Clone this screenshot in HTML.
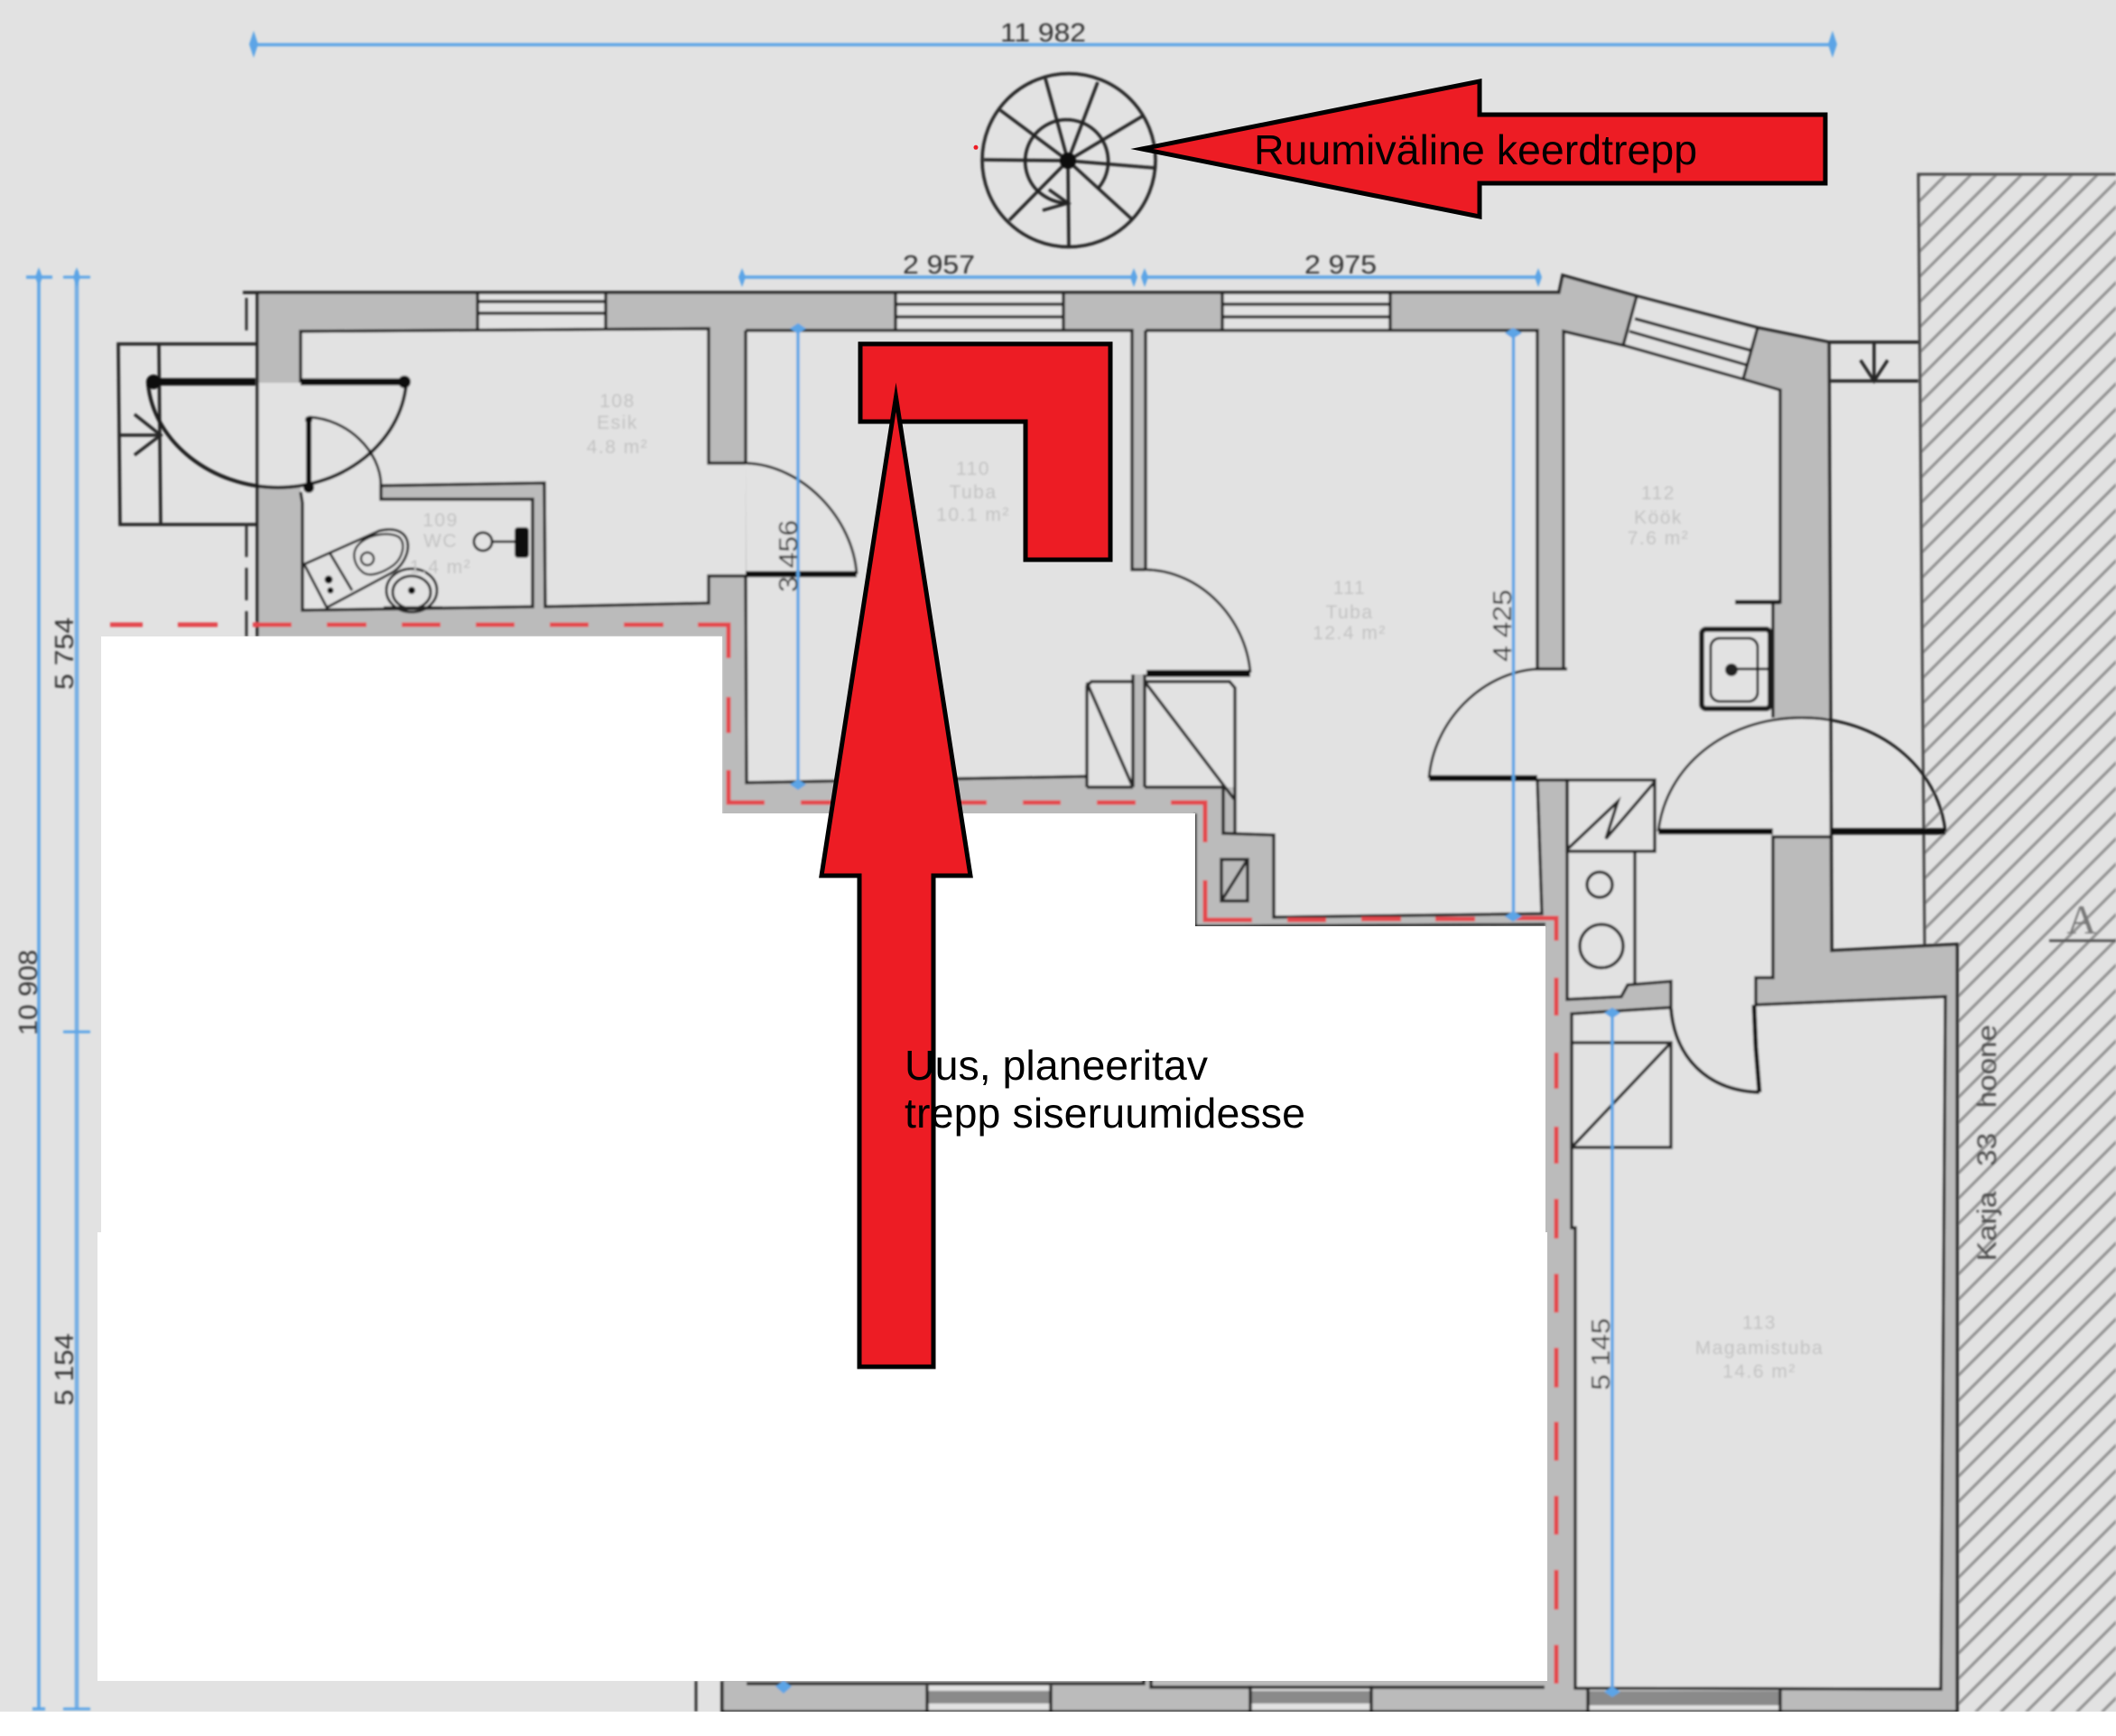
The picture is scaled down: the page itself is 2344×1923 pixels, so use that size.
<!DOCTYPE html>
<html><head><meta charset="utf-8">
<style>html,body{margin:0;padding:0;background:#fff}svg{display:block}.p{white-space:pre}</style>
</head><body>
<svg xmlns="http://www.w3.org/2000/svg" width="2344" height="1923" viewBox="0 0 2344 1923" font-family="'Liberation Sans',sans-serif">
<defs>
<filter id="b" filterUnits="userSpaceOnUse" x="0" y="0" width="2344" height="1923"><feGaussianBlur stdDeviation="1"/></filter>
<pattern id="h" width="28" height="28" patternUnits="userSpaceOnUse">
<path d="M27,-2 L-2,27 M30,23 L23,30" stroke="#8f8f8f" stroke-width="3"/>
</pattern>
</defs>
<rect width="2344" height="1923" fill="#e2e2e2"/>
<g filter="url(#b)">
<!-- hatch -->
<polygon points="2125,193 2344,193 2344,1896 2168,1896 2168,1046 2132,1046" fill="url(#h)"/>
<path d="M2344,193 L2125,193 L2132,1046" fill="none" stroke="#444" stroke-width="3"/>
<!-- building gray -->
<polygon points="285,324 1727,324 1731,305 1813,328 1947,363 2026,379 2029,1053 2168,1046 2168,1896 800,1896 800,705 285,705" fill="#bbb"/>
<!-- room fills -->
<g fill="#e2e2e2">
<polygon points="333,367 785,364 785,513 826,513 826,638 785,638 785,668 604,672 603,535 422,538 422,553 590,553 590,672 335,676 335,557 333,545 333,540 285,540 285,424 333,424"/>
<polygon points="826,366 1254,366 1254,631 1269,631 1269,747 1254,747 1254,756 1203,756 1203,860 827,867 827,638 826,513"/>
<polygon points="1204,755 1255,755 1255,872 1204,872"/>
<polygon points="1269,366 1703,366 1703,741 1736,741 1736,864 1703,864 1708,1012 1411,1016 1411,925 1368,923 1368,755 1269,755 1269,747 1269,631"/>
<polygon points="1268,755 1368,755 1368,872 1268,872"/>
<polygon points="1732,367 1800,383 1931,420 1972,432 1972,666 1964,666 1964,795 2029,795 2029,927 1964,927 1964,1083 1945,1083 1945,1113 2155,1104 2150,1871 1745,1871 1745,1360 1741,1360 1741,1123 1851,1116 1851,1087 1803,1091 1796,1104 1736,1107 1736,741 1732,741"/>
<!-- windows -->
<rect x="529" y="324" width="142" height="42"/>
<rect x="992" y="324" width="186" height="42"/>
<rect x="1354" y="324" width="186" height="42"/>
<polygon points="1813,328 1947,363 1931,420 1798,383"/>
<rect x="1027" y="1867" width="137" height="28"/>
<rect x="1385" y="1867" width="134" height="28"/>
<rect x="1759" y="1871" width="213" height="25"/>
</g>
<rect x="1027" y="1873" width="137" height="14" fill="#8a8a8a"/>
<rect x="1385" y="1873" width="134" height="14" fill="#8a8a8a"/>
<rect x="1759" y="1873" width="213" height="16" fill="#8a8a8a"/>
<!-- wall lines -->
<g fill="none" stroke="#262626" stroke-width="3.5">
<path d="M269,324 L1727,324 L1731,305 L1813,328 L1947,363 L2026,379 L2029,1053 L2168,1046 L2168,1896 L800,1896 L800,1862"/>
<path d="M285,324 L285,705"/>
<path d="M333,424 L333,367 L785,364 L785,513 L826,513 M826,366 L826,513 M826,638 L785,638 L785,668 L604,672 L603,535 L422,538 L422,553 L590,553 L590,672 L335,676 L335,557 L333,545"/>
<path d="M826,638 L827,867 L1204,860 M826,366 L1254,366 L1254,631 L1269,631 M1269,366 L1269,631 M1255,747 L1255,872 M1268,747 L1268,872"/>
<path d="M1204,872 L1204,760 L1209,755 L1255,755 M1204,756 L1255,872 M1204,872 L1255,872"/>
<path d="M1268,755 L1362,755 L1368,762 L1368,923 M1268,755 L1367,885 M1268,872 L1355,872 L1355,923 L1411,925 L1411,1016 L1708,1012 L1703,864 M1269,366 L1703,366 L1703,741 L1736,741"/>
<rect x="1353" y="952" width="29" height="46"/>
<path d="M1353,998 L1382,952"/>
<path d="M1324,901 L1324,1026 L1712,1024"/>
<path d="M1736,864 L1736,1107 L1796,1104 L1803,1091 L1851,1087 L1851,1116 L1741,1123 L1741,1360 L1745,1360 L1745,1870 L2150,1871 L2155,1104 L1945,1113 L1945,1083 L1964,1083 L1964,927 L2029,927"/>
<path d="M1703,864 L1736,864 M1964,795 L1964,667 L1972,667 L1972,432 L1931,420 L1800,383 L1732,367 L1732,741"/>
<path d="M827,1865 L1267,1865 L1267,1857 M1275,1857 L1275,1869 L1711,1869"/>
<path d="M529,324 V366 M671,324 V366 M992,324 V366 M1178,324 V366 M1354,324 V366 M1540,324 V366 M529,334 H671 M529,347 H671 M992,337 H1178 M992,351 H1178 M1354,337 H1540 M1354,351 H1540"/>
<path d="M1813,328 L1798,383 M1947,363 L1931,420 M1811,353 L1939,388 M1805,367 L1934,404"/>
<path d="M1027,1867 V1896 M1164,1867 V1896 M1385,1867 V1896 M1519,1867 V1896 M1759,1871 V1896 M1972,1871 V1896"/>
<!-- stairs left -->
<path d="M284,381 L131,381 L133,581 L284,581 M176,381 L178,581 M131,482 L178,482 M149,459 L178,482 L149,504"/>
<!-- balcony -->
<path d="M2026,379 L2125,379 M2028,422 L2125,422 M2076,379 L2076,420 M2061,399 L2076,422 L2091,399"/>
<!-- kitchen -->
<rect x="1736" y="864" width="97" height="79"/>
<path d="M1736,941 L1792,888 L1779,929 L1833,866 M1811,943 L1811,1090"/>
<circle cx="1772" cy="980" r="14"/>
<circle cx="1774" cy="1048" r="24"/>
<rect x="1741" y="1155" width="110" height="116"/>
<path d="M1741,1271 L1851,1155"/>
</g>
<!-- black dashed -->
<path d="M273,330 V378 M273,581 V705 M771,1862 V1896" fill="none" stroke="#333" stroke-width="3" stroke-dasharray="36 12"/>
<!-- door arcs -->
<g fill="none" stroke="#1a1a1a" stroke-width="4">
<path d="M164,425 C170,490 235,540 308,540 C381,540 444,490 450,425"/>
<path d="M342,462 C385,464 422,500 422,538" stroke-width="3"/>
<path d="M826,513 C890,515 945,575 949,636" stroke-width="3"/>
<path d="M1269,631 C1330,632 1380,685 1385,745" stroke-width="3"/>
<path d="M1703,741 C1640,745 1588,800 1583,862" stroke-width="3"/>
<path d="M1837,921 C1845,850 1910,795 1996,795 C2082,795 2147,850 2155,921" stroke-width="3"/>
<path d="M1851,1117 C1855,1170 1890,1208 1949,1210"/>
</g>
<g fill="none" stroke="#111" stroke-width="8">
<path d="M165,423 H283 M333,423 H450"/>
<path d="M342,465 V540" stroke-width="6"/>
<path d="M826,636 H949" stroke-width="7"/>
<path d="M1270,746 H1385" stroke-width="8"/>
<path d="M1583,862 H1703" stroke-width="7"/>
<path d="M1837,921 H1964 M2029,921 H2155" stroke-width="7"/>
<path d="M1943,1113 L1945,1160 L1949,1210" stroke-width="5"/>
</g>
<g fill="#111"><circle cx="170" cy="423" r="8"/><circle cx="448" cy="423" r="7"/><circle cx="342" cy="540" r="6"/><circle cx="342" cy="465" r="4"/></g>
<!-- WC fixtures -->
<g fill="none" stroke="#222" stroke-width="3">
<path d="M337,625 L420,588 C445,582 455,595 451,612 C448,622 442,630 433,635 L362,673 Z"/>
<path d="M395,606 C405,592 430,588 442,595 C450,602 446,618 436,626 C425,634 410,640 402,634 C392,626 390,614 395,606 Z" stroke-width="2.5"/>
<path d="M365,612 L390,654"/>
<circle cx="407" cy="619" r="7" stroke-width="2.5"/>
<ellipse cx="456" cy="654" rx="28" ry="24"/>
<ellipse cx="456" cy="656" rx="21" ry="18"/>
<path d="M425,673 H490"/>
<circle cx="535" cy="600" r="10"/>
<path d="M545,600 H572"/>
</g>
<g fill="#111"><circle cx="364" cy="642" r="4.5"/><circle cx="366" cy="654" r="3.5"/><circle cx="456" cy="654" r="4"/><rect x="570" y="584" width="16" height="34" rx="4"/></g>
<!-- sink -->
<g fill="none" stroke="#1a1a1a">
<rect x="1885" y="697" width="76" height="88" rx="5" stroke-width="6"/>
<rect x="1895" y="707" width="52" height="70" rx="10" stroke-width="3"/>
<path d="M1918,741 H1958" stroke-width="3"/>
<path d="M1922,667 H1972" stroke-width="5"/>
</g>
<circle cx="1918" cy="742" r="7" fill="#222"/>
<!-- spiral stair -->
<g fill="none" stroke="#222" stroke-width="3.5">
<circle cx="1184" cy="177.5" r="96"/>
<path d="M1150,212 A46,46 0 1 1 1217,208"/>
<path d="M1183,178 L1090,177 M1183,178 L1108,122 M1183,178 L1158,87 M1183,178 L1216,91 M1183,178 L1265,129 M1183,178 L1279,186 M1183,178 L1253,242 M1183,178 L1184,273 M1183,178 L1118,244"/>
<path d="M1150,212 Q1165,225 1183,225 M1162,210 L1183,225 L1155,233"/>
</g>
<circle cx="1183" cy="178" r="9" fill="#111"/>
<!-- dashed red -->
<path d="M122,692 H158 M197,692 H241 M280,692 H323 M362,692 H406 M445,692 H488 M527,692 H570 M609,692 H652 M691,692 H735 M773,692 H807 V729 M807,772 V812 M807,853 V889 H847 M887,889 H929 M969,889 H1011 M1051,889 H1093 M1133,889 H1175 M1215,889 H1258 M1297,889 H1335 V933 M1335,975 V1019 H1387 M1426,1019 H1469 M1508,1018 H1552 M1590,1018 H1634 M1674,1017 H1724 V1042 M1724,1083 V1125 M1724,1166 V1206 M1724,1248 V1289 M1724,1328 V1372 M1724,1411 V1454 M1724,1493 V1537 M1724,1575 V1618 M1724,1657 V1700 M1724,1739 V1783 M1724,1822 V1865" fill="none" stroke="#e4474d" stroke-width="5"/>
<!-- dimensions -->
<g fill="none" stroke="#5ba4e6" stroke-width="3.5">
<path d="M281,49.5 H2030"/>
<path d="M822,307 H1256 M1268,307 H1704"/>
<path d="M43,300 V1893 M29,307 H58 M36,1893 H50"/>
<path d="M85,300 V1893" stroke-width="4.5" stroke="#75aee4"/>
<path d="M70,307 H100 M70,1143 H100 M70,1893 H100" stroke-width="3"/>
<path d="M884,364 V869"/>
<path d="M1676.5,369 V1015"/>
<path d="M1786,1122 V1874"/>
<path d="M868,1862 V1874"/>
</g>
<g fill="#5ba4e6">
<path d="M281,34 L286,49 L281,64 L276,49Z M2030,34 L2035,49 L2030,64 L2025,49Z"/>
<path d="M822,297 L826,307 L822,318 L818,307Z M1256,297 L1260,307 L1256,318 L1252,307Z M1268,297 L1272,307 L1268,318 L1264,307Z M1704,297 L1708,307 L1704,318 L1700,307Z"/>
<path d="M43,296 L47,307 L43,318 L39,307Z M85,296 L89,307 L85,318 L81,307Z"/>
<path d="M875,364 L884,358 L893,364 L884,370Z M875,869 L884,863 L893,869 L884,875Z"/>
<path d="M1667,369 L1676,363 L1686,369 L1676,375Z M1667,1015 L1676,1009 L1686,1015 L1676,1021Z"/>
<path d="M1777,1122 L1786,1116 L1795,1122 L1786,1128Z M1777,1874 L1786,1868 L1795,1874 L1786,1880Z"/>
<path d="M859,1868 L868,1862 L877,1868 L868,1876Z"/>
</g>
<!-- dimension labels -->
<g fill="#333" font-size="29" class="p" lengthAdjust="spacingAndGlyphs">
<text x="1108" y="46" textLength="95" lengthAdjust="spacingAndGlyphs">11  982</text>
<text x="1000" y="303" textLength="80" lengthAdjust="spacingAndGlyphs">2  957</text>
<text x="1445" y="303" textLength="80" lengthAdjust="spacingAndGlyphs">2  975</text>
<text transform="translate(41,1147) rotate(-90)" textLength="95" lengthAdjust="spacingAndGlyphs">10  908</text>
<text transform="translate(81,764) rotate(-90)" textLength="80" lengthAdjust="spacingAndGlyphs">5  754</text>
<text transform="translate(81,1557) rotate(-90)" textLength="80" lengthAdjust="spacingAndGlyphs">5  154</text>
<text transform="translate(883,656) rotate(-90)" textLength="80" lengthAdjust="spacingAndGlyphs">3  456</text>
<text transform="translate(1674,733) rotate(-90)" textLength="80" lengthAdjust="spacingAndGlyphs">4  425</text>
<text transform="translate(1783,1540) rotate(-90)" textLength="80" lengthAdjust="spacingAndGlyphs">5  145</text>
</g>
<text class="p" transform="translate(2211,1397) rotate(-90)" font-size="30" fill="#4a4a4a" textLength="262" lengthAdjust="spacingAndGlyphs">Karja   33   hoone</text>
<text x="2306" y="1034" font-size="46" fill="#777" text-anchor="middle" font-family="'Liberation Serif',serif">A</text>
<path d="M2270,1042 H2344" stroke="#555" stroke-width="3"/>
<!-- room labels -->
<g fill="#c2c2c2" font-size="21" text-anchor="middle" letter-spacing="1.5">
<text x="684" y="451">108</text><text x="684" y="475">Esik</text><text x="684" y="502">4.8  m²</text>
<text x="488" y="583">109</text><text x="488" y="606">WC</text><text x="488" y="635">1.4  m²</text>
<text x="1078" y="526">110</text><text x="1078" y="552">Tuba</text><text x="1078" y="577">10.1  m²</text>
<text x="1495" y="658">111</text><text x="1495" y="685">Tuba</text><text x="1495" y="708">12.4  m²</text>
<text x="1837" y="553">112</text><text x="1837" y="580">Köök</text><text x="1837" y="603">7.6  m²</text>
<text x="1949" y="1472">113</text><text x="1949" y="1500">Magamistuba</text><text x="1949" y="1526">14.6  m²</text>
</g>
</g>
<!-- white masks -->
<polygon points="112,705 800,705 800,901 1324,901 1324,1026 1712,1026 1712,1365 1714,1365 1714,1862 108,1862 108,1365 112,1365" fill="#fff"/>
<rect x="0" y="1896" width="2344" height="27" fill="#fff"/>
<circle cx="1081" cy="163.3" r="2.5" fill="#ed1c24"/>
<!-- red arrows -->
<g fill="#ed1c24" stroke="#000" stroke-width="5" stroke-linejoin="miter" stroke-miterlimit="10">
<polygon points="1265,165 1639,90 1639,127 2022,127 2022,203 1639,203 1639,240"/>
<polygon points="953,381 1230,381 1230,620 1136,620 1136,467 953,467"/>
<polygon points="992.5,440 1075,970 1034,970 1034,1514 952,1514 952,970 910,970"/>
</g>
<g fill="#000" font-size="46.5">
<text x="1389" y="182">Ruumiväline keerdtrepp</text>
<text x="1002" y="1196">Uus, planeeritav</text>
<text x="1002" y="1249" textLength="444">trepp siseruumidesse</text>
</g>
</svg>
</body></html>
